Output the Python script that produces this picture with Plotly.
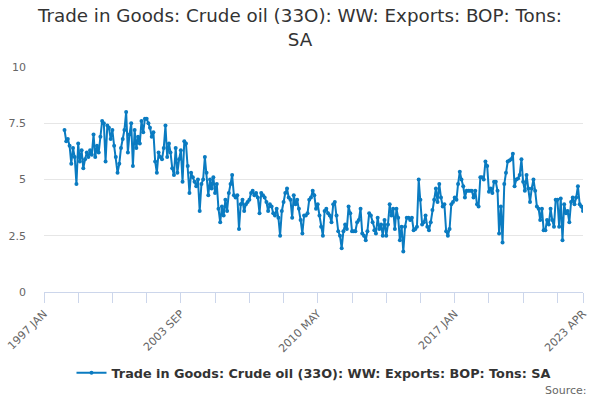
import pandas as pd
import plotly.graph_objects as go

series_name = "Trade in Goods: Crude oil (33O): WW: Exports: BOP: Tons: SA"
start_month = "1998-01-01"

v1998 = [7.2, 6.7, 6.8, 6.5, 5.7, 6.4, 6.0, 4.8, 6.6, 5.8, 6.3, 5.5]
v1999 = [5.9, 6.2, 6.0, 6.3, 6.1, 7.0, 6.0, 6.5, 6.2, 6.9, 7.6, 7.5]
v2000 = [5.8, 7.4, 7.3, 6.8, 7.2, 6.5, 6.0, 5.3, 5.7, 6.4, 6.8, 7.2]
v2001 = [8.0, 6.2, 7.0, 7.5, 5.6, 7.2, 6.4, 6.9, 6.6, 7.6, 7.1, 7.7]
v2002 = [7.7, 7.5, 7.3, 6.9, 7.1, 5.8, 5.3, 6.2, 6.0, 5.9, 6.4, 7.4]
v2003 = [6.0, 6.6, 6.2, 5.5, 5.2, 6.4, 5.3, 5.9, 6.3, 4.9, 6.7, 6.6]
v2004 = [5.6, 4.4, 5.3, 5.1, 4.9, 4.7, 5.0, 3.6, 4.8, 5.0, 6.0, 5.3]
v2005 = [4.3, 5.0, 4.6, 5.1, 4.4, 4.8, 3.7, 3.1, 3.8, 3.4, 4.1, 3.6]
v2006 = [4.4, 4.8, 5.2, 4.3, 4.2, 4.3, 2.8, 3.9, 4.1, 3.6, 3.9, 4.0]
v2007 = [4.1, 4.4, 4.5, 4.3, 4.4, 4.2, 3.5, 4.4, 4.3, 4.2, 4.0, 3.6]
v2008 = [3.9, 3.8, 3.5, 3.4, 3.7, 3.3, 2.5, 3.6, 4.0, 4.4, 4.6, 4.2]
v2009 = [4.1, 3.3, 4.3, 3.9, 4.1, 3.7, 3.2, 2.6, 3.4, 3.4, 3.5, 4.1]
v2010 = [4.2, 4.5, 4.3, 3.7, 3.9, 3.4, 2.9, 2.5, 3.6, 3.7, 3.5, 3.4]
v2011 = [3.1, 3.9, 4.0, 3.4, 2.7, 2.5, 1.95, 2.7, 3.0, 2.8, 3.8, 3.5]
v2012 = [2.7, 2.7, 2.7, 3.1, 3.2, 3.7, 2.6, 2.5, 2.3, 2.7, 3.5, 3.4]
v2013 = [3.1, 2.75, 2.6, 3.3, 2.8, 3.0, 2.5, 3.2, 2.5, 3.0, 3.9, 3.4]
v2014 = [3.7, 2.8, 3.7, 3.3, 2.3, 2.9, 1.8, 2.9, 3.3, 3.3, 3.2, 3.3]
v2015 = [2.75, 2.8, 2.9, 5.0, 4.1, 3.0, 3.1, 3.4, 2.9, 2.75, 3.1, 3.65]
v2016 = [4.1, 4.6, 4.0, 4.8, 4.2, 3.8, 3.9, 2.7, 2.5, 2.8, 3.9, 4.0]
v2017 = [4.2, 4.1, 4.8, 5.35, 5.0, 4.7, 4.2, 4.5, 4.5, 4.5, 4.5, 4.2]
v2018 = [4.5, 3.9, 3.8, 5.1, 5.1, 5.0, 5.8, 5.6, 4.46, 4.6, 4.4, 4.9]
v2019 = [4.9, 4.5, 2.6, 3.8, 2.2, 4.8, 5.3, 5.8, 5.85, 5.9, 6.15, 4.7]
v2020 = [5.0, 5.05, 5.2, 5.9, 4.9, 4.5, 5.2, 4.6, 4.0, 4.6, 5.0, 4.5]
v2021 = [3.8, 3.7, 3.2, 3.7, 2.75, 2.75, 3.2, 3.0, 3.7, 3.2, 2.9, 4.1]
v2022 = [4.1, 2.9, 4.16, 2.3, 3.9, 3.5, 3.6, 3.1, 4.0, 4.2, 3.9, 4.2]
v2023 = [4.7, 3.9, 3.8, 3.6]

values = (v1998 + v1999 + v2000 + v2001 + v2002 + v2003 + v2004 + v2005 +
          v2006 + v2007 + v2008 + v2009 + v2010 + v2011 + v2012 + v2013 +
          v2014 + v2015 + v2016 + v2017 + v2018 + v2019 + v2020 + v2021 +
          v2022 + v2023)
dates = pd.date_range(start_month, periods=len(values), freq="MS")

y_ticks = [0, 2.5, 5, 7.5, 10]
y_tick_labels = ["0", "2.5", "5", "7.5", "10"]
x_start = "1997-01-01"
x_end = "2023-04-01"
x_tick_labels = ["1997 JAN", "2003 SEP", "2010 MAY", "2017 JAN", "2023 APR"]

# tick positions every 20 months, plus the end month
tick_dates = list(pd.date_range(x_start, x_end, freq="20MS"))
if tick_dates[-1] != pd.Timestamp(x_end):
    tick_dates.append(pd.Timestamp(x_end))
tick_text = []
for d in tick_dates:
    lab = f"{d.year} {d.strftime('%b').upper()}"
    tick_text.append(lab if lab in x_tick_labels else "")

line_color = "#0a7bc1"
font_family = "DejaVu Sans"

fig = go.Figure()
fig.add_trace(go.Scatter(
    x=dates, y=values, mode="lines+markers",
    name="<b>" + series_name + "</b>",
    line=dict(color=line_color, width=2),
    marker=dict(color=line_color, size=4),
))

fig.update_layout(
    width=600, height=400,
    paper_bgcolor="white", plot_bgcolor="white",
    margin=dict(l=44, r=17, t=67, b=108),
    font=dict(family=font_family, color="#333333"),
    title=dict(
        text=series_name.replace(" SA", "<br>SA"),
        x=0.5, xanchor="center", y=0.945, yanchor="top",
        font=dict(size=18.3, color="#333333", family=font_family),
    ),
    showlegend=True,
    legend=dict(
        orientation="h", x=0.5, xanchor="center", y=-0.36, yanchor="middle",
        font=dict(size=12.8, color="#333333"), itemwidth=30,
    ),
    xaxis=dict(
        type="date", range=[x_start, x_end], automargin=False,
        ticklabeloverflow="allow",
        tickmode="array", tickvals=tick_dates, ticktext=tick_text,
        tickangle=-45, ticks="outside", ticklen=10, tickcolor="#ccd6eb",
        showline=True, linecolor="#ccd6eb", linewidth=1,
        showgrid=False, zeroline=False,
        tickfont=dict(size=11, color="#666666"),
    ),
    yaxis=dict(
        range=[0, 10], tickmode="array", tickvals=y_ticks, ticktext=y_tick_labels,
        automargin=False,
        showgrid=True, gridcolor="#e6e6e6", gridwidth=1, zeroline=False,
        showline=False, ticklabelstandoff=17,
        tickfont=dict(size=11, color="#666666"),
    ),
    annotations=[dict(
        text="Source:", xref="paper", yref="paper", x=1.011, y=-0.436,
        xanchor="right", yanchor="middle", showarrow=False,
        font=dict(size=11, color="#666666"),
    )],
)

fig.write_html("out.html", config={"displayModeBar": False},
               post_script="document.body.style.margin='0';")
